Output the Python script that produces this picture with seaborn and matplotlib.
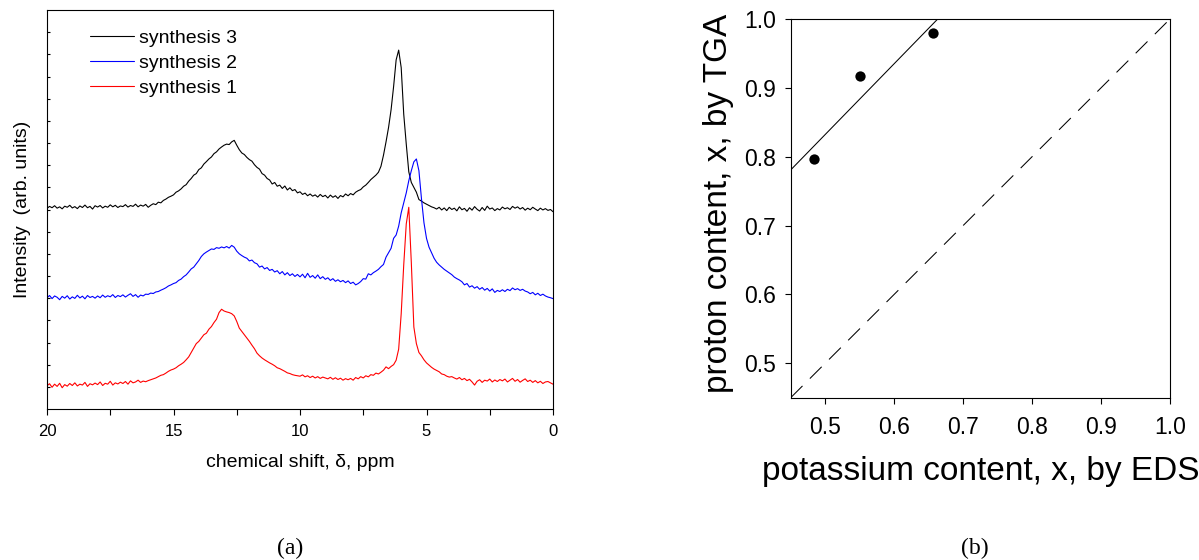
import numpy as np
import pandas as pd
import matplotlib
matplotlib.use("Agg")
import matplotlib.pyplot as plt
from matplotlib.ticker import MultipleLocator
import seaborn as sns

### data (a): 1H NMR spectra, intensity read on a 0-18 arbitrary scale, ppm grid 20 -> 0 step 0.1
ppm = np.round(np.linspace(20, 0, 201), 1)

synthesis_3 = [
    9.05, 9.14, 9.08, 9.17, 9.06, 9.12, 9.03, 9.15, 9.10, 9.19,   # 20.0 - 19.1
    9.07, 9.13, 9.04, 9.16, 9.09, 9.20, 9.08, 9.14, 9.02, 9.17,   # 19.0 - 18.1
    9.11, 9.18, 9.07, 9.15, 9.10, 9.21, 9.12, 9.19, 9.09, 9.16,   # 18.0 - 17.1
    9.13, 9.22, 9.11, 9.18, 9.14, 9.24, 9.12, 9.20, 9.15, 9.23,   # 17.0 - 16.1
    9.10, 9.19, 9.26, 9.22, 9.33, 9.30, 9.41, 9.47, 9.55, 9.60,   # 16.0 - 15.1
    9.66, 9.78, 9.84, 9.93, 10.05, 10.12, 10.28, 10.40, 10.55, 10.62,
    10.80, 10.88, 11.05, 11.16, 11.28, 11.37, 11.52, 11.60, 11.73, 11.82,
    11.90, 11.95, 11.93, 12.05, 12.12, 11.90, 11.70, 11.55, 11.48, 11.35,
    11.25, 11.18, 11.02, 10.90, 10.82, 10.62, 10.55, 10.40, 10.33, 10.15,
    10.22, 10.05, 10.10, 9.95, 10.06, 9.88, 9.98, 9.85, 9.90, 9.75,
    9.80, 9.68, 9.74, 9.62, 9.70, 9.60, 9.66, 9.56, 9.68, 9.58,
    9.64, 9.52, 9.65, 9.55, 9.62, 9.50, 9.63, 9.57, 9.70, 9.62,
    9.72, 9.66, 9.78, 9.85, 9.90, 10.02, 10.10, 10.22, 10.35, 10.45,
    10.55, 10.68, 10.95, 11.45, 12.05, 12.70, 13.50, 14.55, 15.75, 16.19,
    15.40, 13.30, 11.95, 10.70, 10.22, 10.00, 9.78, 9.45, 9.38, 9.30,
    9.24, 9.18, 9.12, 9.08, 9.02, 9.10, 8.98, 9.07, 8.95, 9.10,
    9.00, 9.06, 8.94, 9.12, 8.99, 9.05, 8.92, 9.08, 8.97, 9.13,
    9.01, 8.93, 9.09, 8.96, 9.15, 9.02, 9.07, 8.95, 9.04, 8.98,
    9.11, 9.03, 9.08, 9.00, 9.14, 9.06, 9.12, 9.02, 9.09, 8.97,
    9.06, 8.99, 9.10, 9.02, 8.95, 9.06, 8.98, 9.04, 8.96, 9.00,
    8.90,
]

synthesis_2 = [
    5.02, 5.12, 4.98, 5.10, 5.04, 4.93, 5.08, 5.00, 5.11, 4.96,
    5.06, 4.99, 5.13, 5.01, 5.09, 4.97, 5.12, 5.03, 5.08, 5.00,
    5.10, 5.02, 5.14, 5.04, 5.11, 5.06, 5.16, 5.03, 5.12, 5.07,
    5.15, 5.05, 5.13, 5.20, 5.08, 5.16, 5.04, 5.14, 5.10, 5.18,
    5.17, 5.23, 5.21, 5.28, 5.30, 5.36, 5.41, 5.47, 5.55, 5.60,
    5.66, 5.70, 5.80, 5.86, 5.97, 6.05, 6.18, 6.32, 6.40, 6.55,
    6.70, 6.88, 7.00, 7.08, 7.15, 7.22, 7.20, 7.28, 7.25, 7.31,
    7.27, 7.33, 7.26, 7.38, 7.30, 7.12, 7.00, 6.92, 6.85, 6.80,
    6.68, 6.72, 6.60, 6.55, 6.40, 6.45, 6.32, 6.38, 6.25, 6.30,
    6.18, 6.24, 6.10, 6.20, 6.05, 6.15, 6.02, 6.10, 5.98, 6.07,
    5.96, 6.08, 5.92, 6.12, 5.94, 6.02, 5.90, 6.05, 5.88, 5.97,
    5.85, 5.92, 5.80, 5.88, 5.76, 5.83, 5.74, 5.80, 5.70, 5.78,
    5.66, 5.72, 5.60, 5.66, 5.75, 5.88, 5.86, 6.10, 6.05, 6.15,
    6.22, 6.30, 6.42, 6.52, 6.85, 7.05, 7.25, 7.70, 7.85, 8.25,
    8.85, 9.30, 9.75, 10.30, 10.75, 11.15, 11.28, 10.75, 9.50, 8.40,
    7.70, 7.30, 7.05, 6.80, 6.62, 6.50, 6.40, 6.30, 6.22, 6.14,
    6.06, 5.95, 5.88, 5.82, 5.74, 5.60, 5.66, 5.50, 5.56, 5.45,
    5.52, 5.40, 5.48, 5.36, 5.44, 5.32, 5.42, 5.26, 5.35, 5.30,
    5.38, 5.30, 5.40, 5.34, 5.46, 5.38, 5.43, 5.35, 5.40, 5.32,
    5.28, 5.20, 5.26, 5.15, 5.22, 5.12, 5.18, 5.10, 5.05, 5.02,
    4.98,
]

synthesis_1 = [
    1.05, 1.14, 0.98, 1.12, 1.02, 1.16, 0.96, 1.10, 1.03, 1.15,
    1.06, 1.18, 1.04, 1.12, 1.08, 1.20, 1.02, 1.14, 1.09, 1.17,
    1.10, 1.22, 1.06, 1.16, 1.12, 1.25, 1.08, 1.18, 1.13, 1.21,
    1.15, 1.24, 1.12, 1.27, 1.18, 1.22, 1.30, 1.20, 1.26, 1.23,
    1.28, 1.32, 1.36, 1.40, 1.46, 1.52, 1.55, 1.62, 1.70, 1.76,
    1.80, 1.86, 1.95, 2.02, 2.10, 2.22, 2.35, 2.55, 2.75, 2.95,
    3.05, 3.20, 3.35, 3.42, 3.60, 3.72, 3.90, 4.05, 4.35, 4.50,
    4.42, 4.38, 4.35, 4.30, 4.20, 3.95, 3.65, 3.50, 3.35, 3.20,
    3.05, 2.88, 2.72, 2.52, 2.40, 2.30, 2.22, 2.15, 2.08, 2.02,
    1.95, 1.86, 1.82, 1.76, 1.70, 1.63, 1.60, 1.55, 1.52, 1.50,
    1.48, 1.54, 1.45, 1.50, 1.42, 1.48, 1.40, 1.46, 1.38, 1.44,
    1.40, 1.36, 1.43, 1.34, 1.41, 1.33, 1.39, 1.30, 1.37, 1.32,
    1.38, 1.30, 1.42, 1.36, 1.46, 1.40, 1.50, 1.45, 1.55, 1.52,
    1.62, 1.58, 1.66, 1.75, 1.90, 1.82, 1.92, 2.00, 2.20, 2.70,
    4.30, 6.50, 8.35, 9.10, 6.60, 3.70, 2.95, 2.55, 2.40, 2.22,
    2.08, 1.98, 1.88, 1.80, 1.74, 1.68, 1.58, 1.55, 1.48, 1.44,
    1.46, 1.40, 1.35, 1.42, 1.32, 1.38, 1.28, 1.34, 1.22, 1.08,
    1.25, 1.32, 1.20, 1.30, 1.26, 1.35, 1.22, 1.31, 1.24, 1.33,
    1.27, 1.35, 1.22, 1.30, 1.38, 1.25, 1.33, 1.21, 1.29, 1.36,
    1.24, 1.30, 1.20, 1.28, 1.18, 1.25, 1.15, 1.22, 1.24, 1.18,
    1.12,
]

series_names = ["synthesis 3", "synthesis 2", "synthesis 1"]
series_colors = ["black", "blue", "red"]

### data (b): proton content (TGA) vs potassium content (EDS)
k_eds = [0.484, 0.551, 0.656]
h_tga = [0.796, 0.917, 0.980]


sns.set_style("ticks")
plt.rcParams["font.family"] = ["Liberation Sans", "DejaVu Sans"]
plt.rcParams.update({"axes.linewidth": 0.8, "axes.edgecolor": "black",
                     "text.color": "black", "axes.labelcolor": "black",
                     "xtick.color": "black", "ytick.color": "black"})

fig = plt.figure(figsize=(11.99, 5.6), dpi=100)

### panel (a)
ax1 = fig.add_axes([47 / 1199, 1 - 409 / 560, 506 / 1199, 399 / 560])
spectra = pd.DataFrame({"ppm": ppm, "synthesis 3": synthesis_3,
                        "synthesis 2": synthesis_2, "synthesis 1": synthesis_1})
for name, col in zip(series_names, series_colors):
    sns.lineplot(data=spectra, x="ppm", y=name, color=col, lw=0.8,
                 sort=False, label=name, ax=ax1)

ax1.set_xlim(20, 0)
ax1.set_ylim(0, 18)
ax1.xaxis.set_major_locator(MultipleLocator(5))
ax1.xaxis.set_minor_locator(MultipleLocator(2.5))
ax1.tick_params(axis="x", which="both", direction="out", length=4, width=0.8,
                labelsize=12, pad=7)
ax1.set_yticks(np.arange(1, 18))
ax1.tick_params(axis="y", direction="in", length=2.5, width=0.8, labelleft=False)
ax1.set_xlabel("chemical shift, δ, ppm", fontsize=14)
ax1.xaxis.set_label_coords(0.5, -0.113)
ax1.set_ylabel("Intensity  (arb. units)", fontsize=14)
ax1.yaxis.set_label_coords(-0.032, 0.5)
ax1.legend(loc="upper left", bbox_to_anchor=(0.085, 0.951), frameon=False,
           fontsize=14, handlelength=2.27, handletextpad=0.26,
           labelspacing=0.37, borderpad=0, borderaxespad=0)

### panel (b)
ax2 = fig.add_axes([790.7 / 1199, 1 - 397.7 / 560, 379.3 / 1199, 378.7 / 560])
ax2.set_xlim(0.45, 1.0)
ax2.set_ylim(0.45, 1.0)
ax2.axline((0.5, 0.5), slope=1, color="black", lw=0.75, dashes=(16, 10))
sns.regplot(x=k_eds, y=h_tga, ci=None, truncate=False, ax=ax2,
            scatter_kws={"s": 55, "color": "black", "alpha": 1, "linewidths": 0},
            line_kws={"color": "black", "lw": 0.75})
ax2.set_xlim(0.45, 1.0)
ax2.set_ylim(0.45, 1.0)
ax2.set_xticks([0.5, 0.6, 0.7, 0.8, 0.9, 1.0])
ax2.set_yticks([0.5, 0.6, 0.7, 0.8, 0.9, 1.0])
ax2.tick_params(axis="both", direction="out", length=4.5, width=0.8, labelsize=16.5)
ax2.tick_params(axis="x", pad=9)
ax2.tick_params(axis="y", pad=6)
ax2.set_xlabel("potassium content, x, by EDS", fontsize=24)
ax2.xaxis.set_label_coords(0.502, -0.155)
ax2.set_ylabel("proton content, x, by TGA", fontsize=24)
ax2.yaxis.set_label_coords(-0.15, 0.513)

fig.text(290 / 1199, 1 - 548 / 560, "(a)", family="Liberation Serif", fontsize=17,
         ha="center", va="center")
fig.text(975 / 1199, 1 - 548 / 560, "(b)", family="Liberation Serif", fontsize=17,
         ha="center", va="center")

fig.savefig("out.png", dpi=100)
